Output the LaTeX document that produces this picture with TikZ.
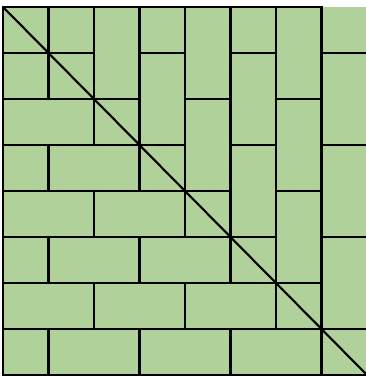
\documentclass[tikz,border=0pt]{standalone}
\usepackage{xcolor}
\definecolor{tilegreen}{RGB}{176,209,153}

\begin{document}
\begin{tikzpicture}[
        x=0.455cm, y=0.46cm,
        tile/.style={draw=black, fill=tilegreen, line width=0.6pt},
        diag/.style={draw=black, line width=0.6pt}
    ]
        \useasboundingbox (-0.066,0.152) rectangle (7.978,-8.022);

        % Top right corner square (no outline on top)
        \fill[tilegreen] (7,0) rectangle ++(1,-1);

        % Diagonal squares
        \foreach \k in {0,...,7} {
            \draw[tile] (\k,-\k) rectangle ++(1,-1);
        }

        % Edge squares
        \foreach \k in {1,3,5} {
            \draw[tile] (\k,0) rectangle ++(1,-1);
        }
        \foreach \k in {1,3,5,7} {
            \draw[tile] (0,-\k) rectangle ++(1,-1);
        }

        % Dominoes (vertical above, horizontal below)
        \foreach \c/\r in {2/0,3/1,4/0,4/2,5/1,5/3,6/0,6/2,6/4,7/1,7/3,7/5} {
            \draw[tile] (\c,-\r) rectangle ++(1,-2);
            \draw[tile] (\r,-\c) rectangle ++(2,-1);
        }

        % Diagonal
        \coordinate (tl) at (0,0);
        \coordinate (br) at (8,-8);
        \draw[diag] (tl) -- (br);
    \end{tikzpicture}
\end{document}
